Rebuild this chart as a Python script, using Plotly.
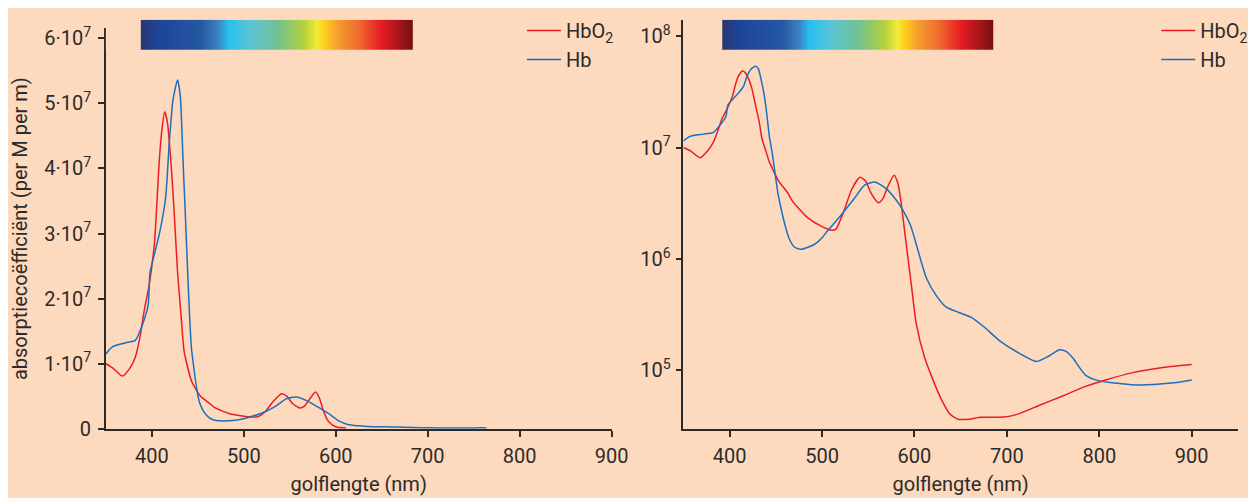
import plotly.graph_objects as go

# ---------------- data ----------------
wl_hbo2 = [350, 358, 368, 376, 382, 387, 392, 397, 403, 406, 408, 411, 414, 417, 421, 424, 428, 432,
           435, 438, 443, 447, 453, 463, 468, 484, 500, 511, 515, 523, 532, 541, 547, 553, 561, 566,
           571, 578, 582, 586, 590, 592, 597, 602, 611, 620, 629, 638, 647, 659, 672, 697, 711, 736,
           761, 785, 807, 835, 867, 900]
eps_hbo2 = [1.0e7, 0.93e7, 0.81e7, 0.93e7, 1.10e7, 1.40e7, 1.84e7, 2.2e7, 2.88e7, 3.6e7, 4.1e7, 4.6e7,
            4.87e7, 4.7e7, 4.05e7, 3.4e7, 2.4e7, 1.7e7, 1.2e7, 1.0e7, 0.74e7, 0.63e7, 0.5e7, 0.39e7,
            0.33e7, 0.236e7, 0.195e7, 0.181e7, 0.185e7, 0.26e7, 0.42e7, 0.54e7, 0.50e7, 0.39e7,
            0.32e7, 0.35e7, 0.445e7, 0.565e7, 0.48e7, 0.30e7, 1.6e6, 1.18e6, 5.5e5, 2.6e5, 1.3e5,
            8.2e4, 5.5e4, 4.07e4, 3.64e4, 3.64e4, 3.79e4, 3.8e4, 4.02e4, 4.88e4, 5.9e4, 7.17e4,
            8.19e4, 9.48e4, 1.055e5, 1.127e5]

wl_hb = [350, 357, 371, 382, 389, 396, 398, 404, 409, 415, 419, 423, 428, 431, 434, 437, 439, 441,
         443, 446, 449, 452, 455, 460, 464, 470, 477, 491, 500, 505, 520, 534, 546, 557, 569, 580,
         587, 595, 598, 604, 613, 624, 634, 648, 661, 675, 693, 711, 732, 746, 757, 764, 771, 785,
         800, 824, 842, 878, 900]
eps_hb = [1.15e7, 1.26e7, 1.32e7, 1.36e7, 1.57e7, 1.9e7, 2.4e7, 2.75e7, 3.05e7, 3.55e7, 4.4e7,
          5.05e7, 5.36e7, 5.1e7, 4.1e7, 3.1e7, 2.4e7, 1.75e7, 1.25e7, 0.9e7, 0.6e7, 0.4e7, 0.3e7,
          0.2e7, 0.155e7, 0.128e7, 0.122e7, 0.134e7, 0.155e7, 0.175e7, 0.244e7, 0.341e7, 0.46e7,
          0.491e7, 0.43e7, 0.34e7, 0.279e7, 0.207e7, 0.175e7, 1.18e6, 6.7e5, 4.63e5, 3.71e5, 3.3e5,
          3.0e5, 2.46e5, 1.82e5, 1.46e5, 1.2e5, 1.35e5, 1.53e5, 1.48e5, 1.3e5, 9.06e4, 8.03e4,
          7.57e4, 7.37e4, 7.67e4, 8.19e4]

# wavelength where each curve stops in the linear (left) panel
left_max_hbo2 = 615
left_max_hb = 765

lin_tickvals = [0, 1e7, 2e7, 3e7, 4e7, 5e7, 6e7]
lin_ticktext = ["0"] + ["%d·10<sup>7</sup>" % i for i in range(1, 7)]
log_tickvals = [1e5, 1e6, 1e7, 1e8]
log_ticktext = ["10<sup>5</sup>", "10<sup>6</sup>", "10<sup>7</sup>", "10<sup>8</sup>"]
x_tickvals = [400, 500, 600, 700, 800, 900]

# visible spectrum strip (nm) for each panel
spec_left = (388, 684)
spec_right = (392, 685)
spec_colors = [
    (0.00, "#2b3673"), (0.06, "#1c4597"), (0.22, "#2558a3"), (0.28, "#3d7fc0"),
    (0.32, "#27c0ef"), (0.40, "#5bc5d6"), (0.50, "#72c193"), (0.60, "#b5d23c"),
    (0.645, "#f4ec37"), (0.67, "#fdd21e"), (0.72, "#f6a02e"), (0.80, "#ee6a2f"),
    (0.88, "#e81d25"), (1.00, "#741010"),
]

# ---------------- figure ----------------
RED = "#ec1c24"
BLUE = "#1b6fbf"
BG = "#fdd9bd"
AX = "#2b2b2b"
FONT = "Roboto"

fig = go.Figure()

lx_o = [w for w in wl_hbo2 if w <= left_max_hbo2]
ly_o = [v for w, v in zip(wl_hbo2, eps_hbo2) if w <= left_max_hbo2]
lx_d = [w for w in wl_hb if w <= left_max_hb]
ly_d = [v for w, v in zip(wl_hb, eps_hb) if w <= left_max_hb]

line_o = dict(color=RED, width=1.5, shape="spline", smoothing=0.6)
line_d = dict(color=BLUE, width=1.5, shape="spline", smoothing=0.6)

fig.add_trace(go.Scatter(x=lx_o, y=ly_o, mode="lines", name="HbO<sub>2</sub>", line=line_o,
                         xaxis="x", yaxis="y", legend="legend"))
fig.add_trace(go.Scatter(x=lx_d, y=ly_d, mode="lines", name="Hb", line=line_d,
                         xaxis="x", yaxis="y", legend="legend"))
fig.add_trace(go.Scatter(x=wl_hbo2, y=eps_hbo2, mode="lines", name="HbO<sub>2</sub>", line=line_o,
                         xaxis="x2", yaxis="y2", legend="legend2"))
fig.add_trace(go.Scatter(x=wl_hb, y=eps_hb, mode="lines", name="Hb", line=line_d,
                         xaxis="x2", yaxis="y2", legend="legend2"))

# spectrum strips
for (s0, s1), xa, ya in ((spec_left, "x", "y3"), (spec_right, "x2", "y4")):
    edges = list(range(s0, s1 + 1))
    centers = [(a + b) / 2 for a, b in zip(edges[:-1], edges[1:])]
    fig.add_trace(go.Heatmap(x=edges, y=[0, 1], z=[centers], zmin=s0, zmax=s1,
                             colorscale=[[p, c] for p, c in spec_colors], showscale=False,
                             zsmooth="best", hoverinfo="skip", xaxis=xa, yaxis=ya))

H = 498.0
def fy(px):
    return (H - px) / H

y_dom_left = [fy(430.7), fy(17)]
y_dom_right = [fy(430.7), fy(8.3)]
strip_dom = [fy(39.5), fy(8)]

tickfont = dict(family=FONT, size=20, color=AX)
titlefont = dict(family=FONT, size=20, color=AX)
axcommon = dict(showline=True, linecolor=AX, linewidth=1.5, ticks="outside", ticklen=6,
                tickwidth=1.5, tickcolor=AX, showgrid=False, zeroline=False, tickfont=tickfont)

legfont = dict(family=FONT, size=20, color=AX)

fig.update_layout(
    width=1256, height=498,
    margin=dict(l=0, r=0, t=0, b=0),
    paper_bgcolor=BG, plot_bgcolor=BG,
    font=dict(family=FONT, size=18, color=AX),
    xaxis=dict(domain=[99.2 / 1256, 611.9 / 1256], range=[350, 900], anchor="y",
               tickvals=x_tickvals, ticklabelstandoff=2,
               title=dict(text="golflengte (nm)", standoff=10, font=titlefont),
               **axcommon),
    yaxis=dict(domain=y_dom_left, range=[0, 6.15e7], anchor="x",
               tickvals=lin_tickvals, ticktext=lin_ticktext, ticklabelstandoff=3,
               title=dict(text="absorptiecoëfficiënt (per M per m)", standoff=14, font=titlefont),
               **axcommon),
    xaxis2=dict(domain=[684.7 / 1256, 1246.8 / 1256], range=[350, 950], anchor="y2",
                tickvals=x_tickvals, ticklabelstandoff=2,
                title=dict(text="golflengte (nm)", standoff=10, font=titlefont),
                **axcommon),
    yaxis2=dict(domain=y_dom_right, type="log", range=[4.474, 8.145], anchor="x2",
                tickvals=log_tickvals, ticktext=log_ticktext, ticklabelstandoff=1, **axcommon),
    yaxis3=dict(domain=strip_dom, anchor="x", range=[0, 1], visible=False, fixedrange=True),
    yaxis4=dict(domain=strip_dom, anchor="x2", range=[0, 1], visible=False, fixedrange=True),
    legend=dict(x=521 / 1256, y=fy(-1), xanchor="left", yanchor="top",
                bgcolor="rgba(0,0,0,0)", font=legfont, itemwidth=34),
    legend2=dict(x=1164 / 1256, y=fy(-1), xanchor="left", yanchor="top",
                 bgcolor="rgba(0,0,0,0)", font=legfont, itemwidth=34),
)

fig.write_html("out.html")
